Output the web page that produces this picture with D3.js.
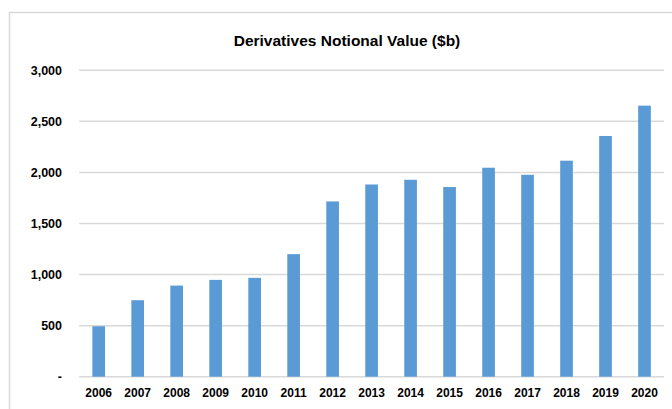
<!DOCTYPE html>
<html>
<head>
<meta charset="utf-8">
<script src="https://cdn.jsdelivr.net/npm/d3@7"></script>
<style>
  body { margin: 0; background: #fff; }
  text { font-family: "Liberation Sans", Arial, sans-serif; font-weight: bold; fill: #000; }
</style>
</head>
<body>
<svg id="chart" width="672" height="409"></svg>
<script>
// data
var years = ["2006", "2007", "2008", "2009", "2010", "2011", "2012", "2013", "2014", "2015", "2016", "2017", "2018", "2019", "2020"];
var values = [494, 749, 892, 948, 968, 1200, 1716, 1882, 1928, 1857, 2046, 1977, 2115, 2357, 2654];
var yTicks = [0, 500, 1000, 1500, 2000, 2500, 3000];
var title = "Derivatives Notional Value ($b)";

var svg = d3.select("#chart");

// chart frame
svg.append("rect")
    .attr("x", 9.5).attr("y", 12.5)
    .attr("width", 700).attr("height", 420)
    .attr("fill", "#fff")
    .attr("stroke", "#d9d9d9")
    .attr("stroke-width", 1.5);

var x = d3.scaleBand().domain(years).range([79.2, 664]).paddingInner(0.675).paddingOuter(0.3375);
var y = d3.scaleLinear().domain([0, 3000]).range([376.7, 70.3]);

// grid
svg.append("g")
    .selectAll("line")
    .data(yTicks)
    .join("line")
    .attr("x1", 79.2).attr("x2", 664)
    .attr("y1", function (d) { return y(d); })
    .attr("y2", function (d) { return y(d); })
    .attr("stroke", "#d9d9d9")
    .attr("stroke-width", 1.5);

// bars
svg.append("g")
    .selectAll("rect")
    .data(values)
    .join("rect")
    .attr("x", function (d, i) { return x(years[i]); })
    .attr("width", x.bandwidth())
    .attr("y", function (d) { return y(d); })
    .attr("height", function (d) { return y(0) - y(d); })
    .attr("fill", "#5b9bd5");

// y axis labels
var fmt = d3.format(",");
var yAxis = svg.append("g")
    .attr("transform", "translate(62,0)")
    .call(d3.axisLeft(y).tickValues(yTicks).tickSize(0).tickPadding(0)
        .tickFormat(function (d) { return d === 0 ? "-" : fmt(d); }));
yAxis.select(".domain").remove();
yAxis.selectAll("text")
    .attr("font-size", 12.5)
    .attr("font-family", "Liberation Sans, Arial, sans-serif")
    .attr("font-weight", "bold")
    .attr("fill", "#000");

// x axis labels
var xAxis = svg.append("g")
    .attr("transform", "translate(0,376.7)")
    .call(d3.axisBottom(x).tickSize(0).tickPadding(12));
xAxis.select(".domain").remove();
xAxis.selectAll("text")
    .attr("font-size", 12)
    .attr("font-family", "Liberation Sans, Arial, sans-serif")
    .attr("font-weight", "bold")
    .attr("fill", "#000");

// title
svg.append("text")
    .attr("x", 347)
    .attr("y", 46)
    .attr("text-anchor", "middle")
    .attr("font-size", 15.5)
    .text(title);
</script>
</body>
</html>
